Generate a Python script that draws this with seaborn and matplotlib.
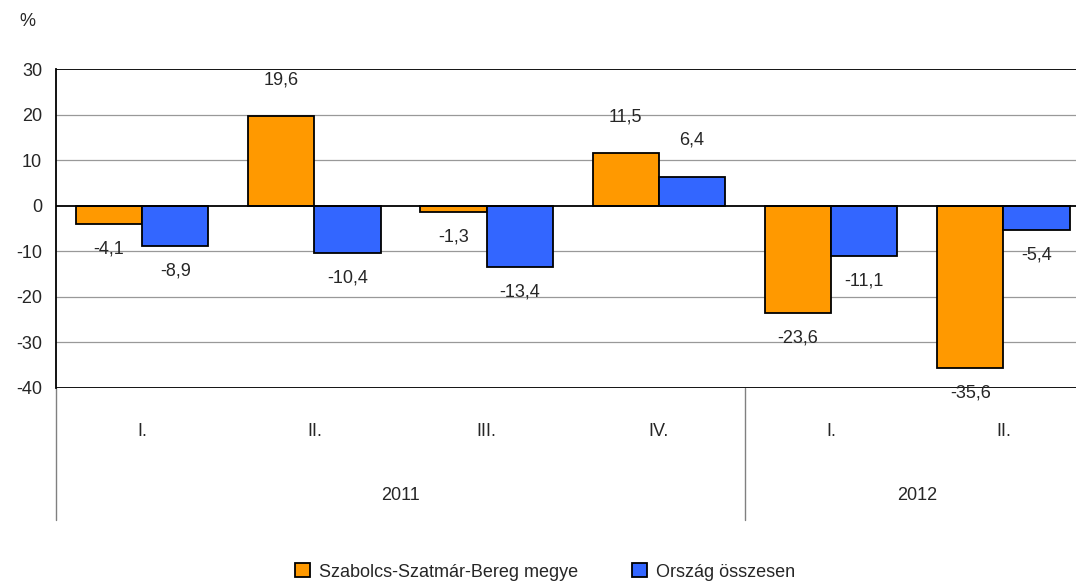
import matplotlib
matplotlib.use("Agg")
import matplotlib.pyplot as plt
import matplotlib.transforms as mtransforms
import seaborn as sns
import pandas as pd

# adatok
years = ["2011", "2011", "2011", "2011", "2012", "2012"]
quarters = ["I.", "II.", "III.", "IV.", "I.", "II."]
series_names = ["Szabolcs-Szatmár-Bereg megye", "Ország összesen"]
megye = [-4.1, 19.6, -1.3, 11.5, -23.6, -35.6]
orszag = [-8.9, -10.4, -13.4, 6.4, -11.1, -5.4]
yticks = [-40, -30, -20, -10, 0, 10, 20, 30]

ORANGE = "#FF9900"
BLUE = "#3366FF"

keys = [f"{y} {q}" for y, q in zip(years, quarters)]
df = pd.DataFrame({
    "key": keys * 2,
    "value": megye + orszag,
    "series": [series_names[0]] * 6 + [series_names[1]] * 6,
})

sns.set_style("white")
plt.rcParams["font.family"] = ["Liberation Sans Narrow", "Liberation Sans", "DejaVu Sans"]
plt.rcParams["axes.unicode_minus"] = False
plt.rcParams["font.size"] = 12

fig = plt.figure(figsize=(10.76, 5.81), dpi=100)
ax = fig.add_axes([56 / 1076, 193 / 581, 1033.5 / 1076, 319 / 581])

sns.barplot(data=df, x="key", y="value", hue="series", order=keys,
            hue_order=series_names, palette=[ORANGE, BLUE],
            edgecolor="black", linewidth=1.3, width=0.77, saturation=1,
            ax=ax, legend=True, zorder=3)

ax.set_xlim(-0.5, 5.5)
ax.set_ylim(-40, 30)
ax.set_yticks(yticks)
ax.set_yticklabels([str(t) for t in yticks], fontsize=13)
ax.set_xlabel("")
ax.set_ylabel("")

# rácsvonalak
for t in yticks:
    if t in (0, 30, -40):
        ax.axhline(t, color="black", lw=1.3, zorder=4)
    else:
        ax.axhline(t, color="#999999", lw=0.9, zorder=1)

for side in ["top", "right", "bottom"]:
    ax.spines[side].set_visible(False)
ax.spines["left"].set_color("black")
ax.spines["left"].set_linewidth(1.3)
ax.tick_params(axis="y", direction="out", length=6, width=1, color="black", pad=4)

# negyedév címkék
ax.set_xticks(range(6))
ax.set_xticklabels(quarters, fontsize=13)
ax.tick_params(axis="x", length=0, pad=25)

# évek és elválasztók
trans = mtransforms.blended_transform_factory(ax.transData, ax.transAxes)
bottom_y = (388 - 520) / 319
ax.plot([-0.5, -0.5], [0, bottom_y], transform=trans, color="#808080", lw=1, clip_on=False)
ax.plot([3.5, 3.5], [0, bottom_y], transform=trans, color="#808080", lw=1, clip_on=False)
year_y = (388 - 495) / 319
ax.text(1.5, year_y, "2011", transform=trans, ha="center", va="center", fontsize=13)
ax.text(4.5, year_y, "2012", transform=trans, ha="center", va="center", fontsize=13)

# értékcímkék
for cont in ax.containers:
    for bar, v in zip(cont, cont.datavalues):
        x = bar.get_x() + bar.get_width() / 2
        off = 26.5 if v >= 0 else -18
        ax.annotate(f"{v:.1f}".replace(".", ","), (x, v), xytext=(0, off),
                    textcoords="offset points", ha="center", va="center",
                    fontsize=13, zorder=6, annotation_clip=False)

fig.text(27 / 1076, 1 - 22 / 581, "%", ha="center", va="center", fontsize=13)

ax.legend_.remove()
handles, labels = ax.get_legend_handles_labels()
fig.legend(handles, labels, loc="center", bbox_to_anchor=(545 / 1076, 1 - 572 / 581),
           ncol=2, frameon=False, fontsize=13, handlelength=0.8, handleheight=0.8,
           handletextpad=0.5, columnspacing=3.0)

fig.savefig("out.png", dpi=100)
